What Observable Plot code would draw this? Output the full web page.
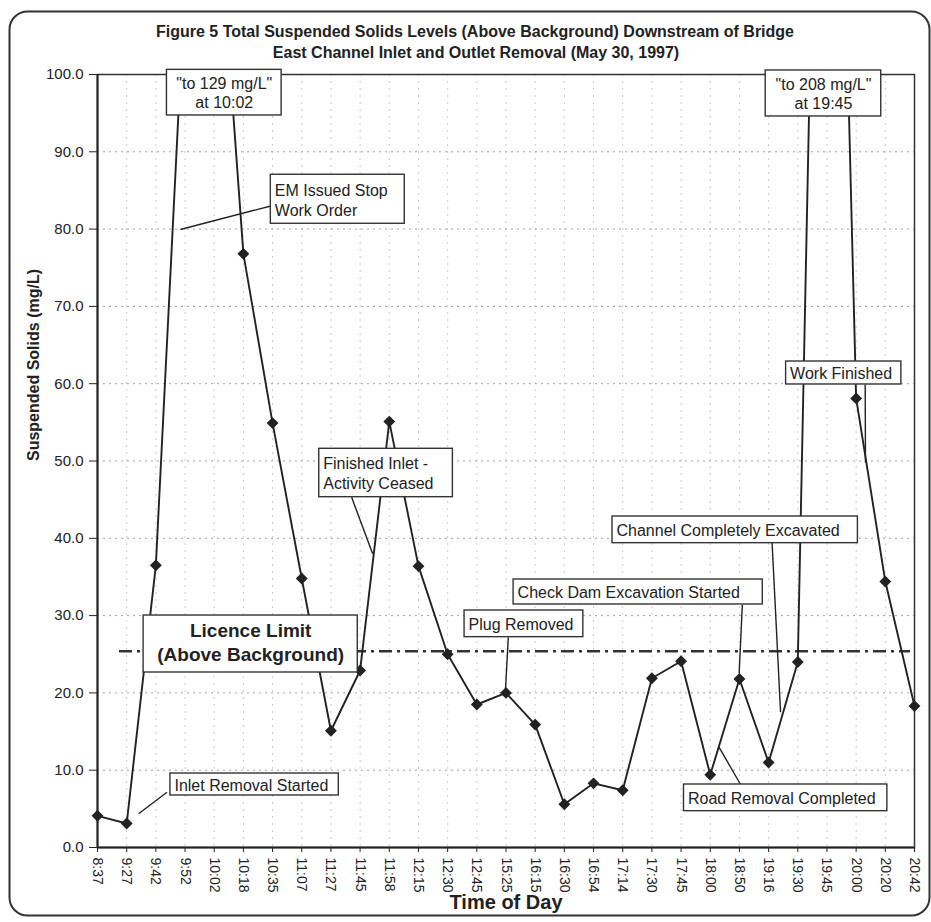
<!DOCTYPE html>
<html>
<head>
<meta charset="utf-8">
<script src="https://cdn.jsdelivr.net/npm/d3@7"></script>
<script src="https://cdn.jsdelivr.net/npm/@observablehq/plot@0.6"></script>
<style>
  html, body { margin: 0; padding: 0; background: #fff; }
  #chart { width: 931px; height: 922px; }
</style>
</head>
<body>
<div id="chart"></div>
<script>
// Sampling times (category axis) and suspended solids above background, mg/L
const times = ["8:37", "9:27", "9:42", "9:52", "10:02", "10:18", "10:35", "11:07", "11:27", "11:45",
  "11:58", "12:15", "12:30", "12:45", "15:25", "16:15", "16:30", "16:54", "17:14", "17:30",
  "17:45", "18:00", "18:50", "19:16", "19:30", "19:45", "20:00", "20:20", "20:42"];
const solids = [4.1, 3.1, 36.5, 112, 129, 76.8, 54.9, 34.8, 15.1, 22.9,
  55.1, 36.4, 25.0, 18.5, 20.0, 15.9, 5.6, 8.3, 7.4, 21.9,
  24.1, 9.4, 21.8, 11.0, 24.0, 208, 58.1, 34.4, 18.3];

// Licence limit (above background), mg/L
const licenceLimit = [25.4];

// y-axis tick values
const yTicks = [0, 10, 20, 30, 40, 50, 60, 70, 80, 90, 100];

const titleLines = [
  "Figure 5 Total Suspended Solids Levels (Above Background) Downstream of Bridge",
  "East Channel Inlet and Outlet Removal (May 30, 1997)"
];

// Callout boxes in chart units (x = sample index, y = mg/L)
const callouts = [
  {text: "\"to 129 mg/L\"\nat 10:02", x1: 2.38, x2: 6.31, y1: 94.7, y2: 100.6, align: "middle"},
  {text: "\"to 208 mg/L\"\nat 19:45", x1: 22.9, x2: 26.86, y1: 94.57, y2: 100.52, align: "middle"},
  {text: "EM Issued Stop\nWork Order", x1: 5.94, x2: 10.53, y1: 80.69, y2: 87.03, align: "start"},
  {text: "Finished Inlet -\nActivity Ceased", x1: 7.6, x2: 12.18, y1: 45.32, y2: 51.58, align: "start"},
  {text: "Plug Removed", x1: 12.58, x2: 16.65, y1: 27.21, y2: 30.66, align: "start"},
  {text: "Check Dam Excavation Started", x1: 14.26, x2: 22.8, y1: 31.44, y2: 34.67, align: "start"},
  {text: "Channel Completely Excavated", x1: 17.65, x2: 26.06, y1: 39.37, y2: 42.82, align: "start"},
  {text: "Road Removal Completed", x1: 20.1, x2: 27.07, y1: 4.7, y2: 8.15, align: "start"},
  {text: "Inlet Removal Started", x1: 2.5, x2: 8.27, y1: 6.73, y2: 9.57, align: "start"},
  {text: "Work Finished", x1: 23.6, x2: 27.55, y1: 59.9, y2: 62.87, align: "start"}
];
const licenceBox = [{text: "Licence Limit\n(Above Background)", x1: 1.58, x2: 8.92, y1: 22.64, y2: 30.01}];

// Leader lines from callouts to the events they describe
const leaders = [
  {x1: 5.91, y1: 82.96, x2: 2.84, y2: 79.95},
  {x1: 8.71, y1: 45.3, x2: 9.43, y2: 38.0},
  {x1: 14.08, y1: 27.2, x2: 13.98, y2: 20.3},
  {x1: 22.1, y1: 31.4, x2: 21.99, y2: 22.5},
  {x1: 23.12, y1: 39.4, x2: 23.41, y2: 17.5},
  {x1: 22.04, y1: 8.15, x2: 21.3, y2: 12.98},
  {x1: 2.38, y1: 7.15, x2: 1.41, y2: 4.36},
  {x1: 26.31, y1: 59.9, x2: 26.32, y2: 49.8}
];

const samples = times.map((t, i) => ({i, t, v: solids[i]}));
const ink = "#222";

const chart = Plot.plot({
  width: 931,
  height: 922,
  marginLeft: 97,
  marginRight: 17,
  marginTop: 74,
  marginBottom: 75,
  x: {type: "linear", domain: [0, times.length - 1]},
  y: {domain: [0, 100]},
  style: {fontFamily: "'Liberation Sans', Arial, sans-serif", color: ink, background: "#fff", overflow: "visible"},
  marks: [
    // outer rounded border of the figure
    Plot.frame({insetLeft: -88, insetTop: -63, insetRight: -15, insetBottom: -68, rx: 18, stroke: "#333", strokeWidth: 2}),
    Plot.gridY(yTicks.slice(1, -1), {stroke: "#888", strokeOpacity: 0.8, strokeDasharray: "2,4"}),
    Plot.gridX(d3.range(1, times.length - 1), {stroke: "#aaa", strokeOpacity: 0.6, strokeDasharray: "2,5"}),
    Plot.frame({stroke: "#333", strokeWidth: 1.5}),
    Plot.axisY(yTicks, {tickFormat: d => d.toFixed(1), tickSize: 8, tickPadding: 6, fontSize: 15, fontWeight: 500, label: null, stroke: ink}),
    Plot.axisX(d3.range(times.length), {tickFormat: i => times[i], tickRotate: 90, tickSize: 5, tickPadding: 5, fontSize: 14, label: null, stroke: ink}),
    Plot.ruleX([0], {stroke: ink, strokeWidth: 2}),
    Plot.ruleY([0], {stroke: ink, strokeWidth: 2}),
    // licence limit, dash-dot
    Plot.ruleY(licenceLimit, {insetLeft: 22, insetRight: 4, stroke: "#333", strokeWidth: 2.5, strokeDasharray: "13,5,3,5"}),
    // suspended solids series
    Plot.line(samples, {x: "i", y: "v", stroke: ink, strokeWidth: 1.9, clip: true}),
    Plot.dot(samples, {x: "i", y: "v", filter: d => d.v <= 100, symbol: "diamond2", r: 4.4, fill: ink, stroke: ink}),
    // leader lines and callout boxes
    Plot.link(leaders, {x1: "x1", y1: "y1", x2: "x2", y2: "y2", stroke: ink, strokeWidth: 1.4}),
    Plot.rect(callouts, {x1: "x1", x2: "x2", y1: "y1", y2: "y2", fill: "#fff", stroke: "#333", strokeWidth: 1.4}),
    Plot.rect(licenceBox, {x1: "x1", x2: "x2", y1: "y1", y2: "y2", fill: "#fff", stroke: "#333", strokeWidth: 1.4}),
    Plot.text(callouts.filter(d => d.align === "start"), {
      x: "x1", y: d => (d.y1 + d.y2) / 2, text: "text", textAnchor: "start", dx: 4,
      fontSize: 16, lineHeight: 1.25, fill: ink
    }),
    Plot.text(callouts.filter(d => d.align === "middle"), {
      x: d => (d.x1 + d.x2) / 2, y: d => (d.y1 + d.y2) / 2, text: "text", textAnchor: "middle",
      fontSize: 16, lineHeight: 1.2, fill: ink
    }),
    Plot.text(licenceBox, {
      x: d => (d.x1 + d.x2) / 2, y: d => (d.y1 + d.y2) / 2, text: "text", textAnchor: "middle", dy: -3,
      fontSize: 19, fontWeight: "bold", lineHeight: 1.3, fill: ink
    }),
    // titles and axis labels
    Plot.text([titleLines[0]], {frameAnchor: "top", dx: -31, dy: -49, fontSize: 16, fontWeight: "bold", fill: ink}),
    Plot.text([titleLines[1]], {frameAnchor: "top", dx: -30, dy: -28, fontSize: 16, fontWeight: "bold", fill: ink}),
    Plot.text(["Suspended Solids (mg/L)"], {frameAnchor: "left", dx: -64, rotate: -90, fontSize: 16, fontWeight: "bold", fill: ink}),
    Plot.text(["Time of Day"], {frameAnchor: "bottom", dy: 61, fontSize: 20, fontWeight: "bold", fill: ink})
  ]
});

document.getElementById("chart").appendChild(chart);
</script>
</body>
</html>
